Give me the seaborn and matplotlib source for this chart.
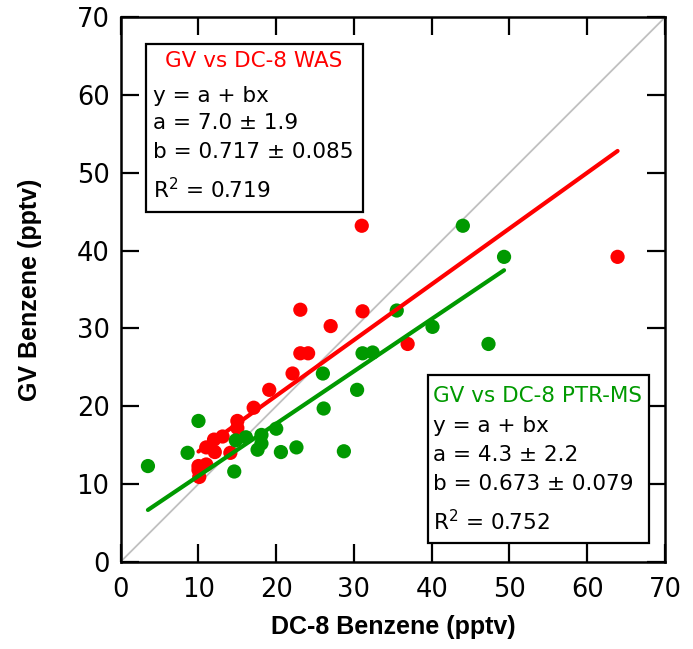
import pandas as pd
import matplotlib.pyplot as plt
import seaborn as sns
from matplotlib.patches import Rectangle

# DC-8 WAS vs GV benzene (pptv)
was_x = [31.0, 63.9, 23.1, 31.1, 27.0, 36.9, 23.1, 24.1, 22.1, 19.1, 17.1,
         15.0, 15.0, 13.1, 12.0, 11.0, 12.1, 14.1, 10.0, 11.0, 10.0, 10.1]
was_y = [43.2, 39.2, 32.4, 32.2, 30.3, 28.0, 26.8, 26.8, 24.2, 22.1, 19.8,
         18.1, 17.2, 16.1, 15.7, 14.7, 14.1, 14.0, 12.3, 12.5, 11.8, 10.9]

# DC-8 PTR-MS vs GV benzene (pptv)
ptr_x = [44.0, 49.3, 35.5, 40.1, 47.3, 31.1, 32.4, 26.0, 30.4, 26.1, 20.0, 10.0,
         18.1, 16.1, 14.8, 18.1, 17.6, 20.6, 22.6, 28.7, 8.6, 3.5, 14.6]
ptr_y = [43.2, 39.2, 32.3, 30.2, 28.0, 26.8, 26.9, 24.2, 22.1, 19.7, 17.1, 18.1,
         16.3, 16.0, 15.6, 15.2, 14.4, 14.1, 14.7, 14.2, 14.0, 12.3, 11.6]

# fit results shown in the boxes
was_fit = {"a": 7.0, "b": 0.717, "text": ["y = a + bx", "a = 7.0 ± 1.9",
           "b = 0.717 ± 0.085", r"R$^2$ = 0.719"]}
ptr_fit = {"a": 4.3, "b": 0.673, "text": ["y = a + bx", "a = 4.3 ± 2.2",
           "b = 0.673 ± 0.079", r"R$^2$ = 0.752"]}

red = "#ff0000"
green = "#009900"

sns.set_style("ticks")
plt.rcParams["font.family"] = ["DejaVu Sans"]
plt.rcParams["text.color"] = "black"
plt.rcParams["axes.labelcolor"] = "black"
plt.rcParams["xtick.color"] = "black"
plt.rcParams["ytick.color"] = "black"

fig = plt.figure(figsize=(6.93, 6.49), dpi=100)
ax = fig.add_axes([0.1742, 0.1345, 0.7854, 0.8388])

# 1:1 line
one = pd.DataFrame({"x": [0, 70], "y": [0, 70]})
sns.lineplot(data=one, x="x", y="y", color="#c0c0c0", lw=1.3, ax=ax)

was = pd.DataFrame({"x": was_x, "y": was_y})
ptr = pd.DataFrame({"x": ptr_x, "y": ptr_y})
sns.scatterplot(data=was, x="x", y="y", color=red, s=105, edgecolor="none", ax=ax, zorder=3)
sns.scatterplot(data=ptr, x="x", y="y", color=green, s=105, edgecolor="none", ax=ax, zorder=3)

for df, fit, c in [(was, was_fit, red), (ptr, ptr_fit, green)]:
    xs = [df["x"].min(), df["x"].max()]
    line = pd.DataFrame({"x": xs, "y": [fit["a"] + fit["b"] * v for v in xs]})
    sns.lineplot(data=line, x="x", y="y", color=c, lw=3.0, ax=ax, zorder=4)

ax.set_xlim(0, 70)
ax.set_ylim(0, 70)
ax.set_xticks(range(0, 71, 10))
ax.set_yticks(range(0, 71, 10))
ax.tick_params(direction="in", length=13, width=1.6, top=True, right=True,
               labelsize=18.5, color="black", labelcolor="black")
ax.tick_params(axis="x", pad=11)
ax.tick_params(axis="y", pad=8)
for sp in ax.spines.values():
    sp.set_linewidth(1.8)
    sp.set_color("black")

ax.set_xlabel("DC-8 Benzene (pptv)", fontsize=18, fontweight="bold",
              family="Liberation Sans", labelpad=9)
ax.set_ylabel("GV Benzene (pptv)", fontsize=18, fontweight="bold",
              family="Liberation Sans", labelpad=25)

# fit boxes
fs = 15.5
ax.add_patch(Rectangle((3.2, 45.0), 27.9, 21.6, fill=True, facecolor="white",
                       edgecolor="black", lw=1.6, zorder=5))
ax.text(17.1, 64.4, "GV vs DC-8 WAS", color=red, fontsize=fs, ha="center",
        va="center", zorder=6)
for i, t in enumerate(was_fit["text"]):
    ax.text(4.2, [59.9, 56.4, 52.7, 47.8][i], t, fontsize=fs, ha="left",
            va="center", color="black", zorder=6)

ax.add_patch(Rectangle((39.5, 2.4), 28.4, 21.6, fill=True, facecolor="white",
                       edgecolor="black", lw=1.6, zorder=5))
ax.text(40.1, 21.3, "GV vs DC-8 PTR-MS", color=green, fontsize=fs, ha="left",
        va="center", zorder=6)
for i, t in enumerate(ptr_fit["text"]):
    ax.text(40.1, [17.4, 13.7, 10.0, 5.2][i], t, fontsize=fs, ha="left",
            va="center", color="black", zorder=6)

fig.savefig("out.png", dpi=100)
